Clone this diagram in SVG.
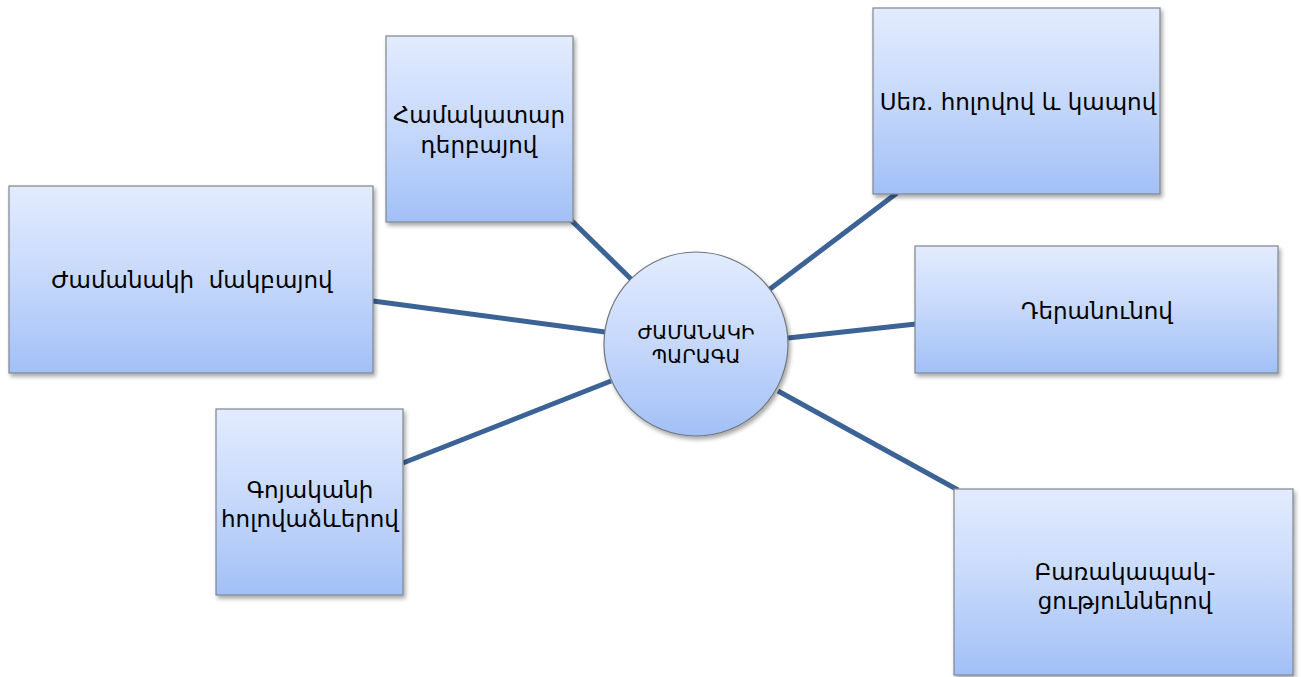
<svg xmlns="http://www.w3.org/2000/svg" width="1302" height="677" viewBox="0 0 1302 677">
  <defs>
    <linearGradient id="fill" x1="0" y1="0" x2="0" y2="1">
      <stop offset="0" stop-color="#E3ECFD"/>
      <stop offset="0.5" stop-color="#C6D8FB"/>
      <stop offset="1" stop-color="#A2C0F6"/>
    </linearGradient>
    <filter id="shadow" x="-10%" y="-10%" width="125%" height="125%">
      <feGaussianBlur in="SourceAlpha" stdDeviation="2"/>
      <feOffset dx="2" dy="3" result="b"/>
      <feComponentTransfer><feFuncA type="linear" slope="0.35"/></feComponentTransfer>
      <feMerge><feMergeNode/><feMergeNode in="SourceGraphic"/></feMerge>
    </filter>
  </defs>
  <style>
    .box { fill: url(#fill); stroke: #7F8690; stroke-width: 1.2; filter: url(#shadow); }
    .hub { fill: url(#fill); stroke: #6E747C; stroke-width: 1.2; filter: url(#shadow); }
    .label { font-family: "DejaVu Sans", "Noto Sans", sans-serif; font-size: 23px; fill: #000; text-anchor: middle; }
    .hub-label { font-family: "DejaVu Sans", "Noto Sans", sans-serif; font-size: 19.5px; fill: #000; text-anchor: middle; }
    .link { stroke: #3C6396; stroke-width: 5; fill: none; }
  </style>
  <rect width="1302" height="677" fill="#FFFFFF"/>

  <g id="connectors">
    <line class="link" x1="571" y1="220" x2="632" y2="280"/>
    <line class="link" x1="897" y1="193" x2="770" y2="289"/>
    <line class="link" x1="373" y1="301" x2="605" y2="332"/>
    <line class="link" x1="916" y1="324" x2="788" y2="338"/>
    <line class="link" x1="403" y1="463" x2="611" y2="381"/>
    <line class="link" x1="958" y1="490" x2="778" y2="391"/>
  </g>

  <g id="node-hamakatar">
    <rect class="box" x="386" y="36" width="187" height="186"/>
    <text class="label" x="479" y="123">Համակատար</text>
    <text class="label" x="479" y="153">դերբայով</text>
  </g>

  <g id="node-ser">
    <rect class="box" x="873" y="8" width="287" height="186"/>
    <text class="label" x="1018" y="110">Սեռ. հոլովով և կապով</text>
  </g>

  <g id="node-makbay">
    <rect class="box" x="9" y="186" width="364" height="187"/>
    <text class="label" x="192" y="288" xml:space="preserve">Ժամանակի  մակբայով</text>
  </g>

  <g id="node-deranun">
    <rect class="box" x="915" y="246" width="363" height="127"/>
    <text class="label" x="1097" y="319">Դերանունով</text>
  </g>

  <g id="node-goyakan">
    <rect class="box" x="216" y="409" width="187" height="186"/>
    <text class="label" x="310" y="498">Գոյականի</text>
    <text class="label" x="310" y="527">հոլովաձևերով</text>
  </g>

  <g id="node-barakapakcutyun">
    <rect class="box" x="954" y="489" width="339" height="186"/>
    <text class="label" x="1125" y="580">Բառակապակ-</text>
    <text class="label" x="1125" y="609">ցություններով</text>
  </g>

  <g id="node-center">
    <circle class="hub" cx="696" cy="344" r="92"/>
    <text class="hub-label" x="696" y="339">ԺԱՄԱՆԱԿԻ</text>
    <text class="hub-label" x="696" y="363">ՊԱՐԱԳԱ</text>
  </g>
</svg>
